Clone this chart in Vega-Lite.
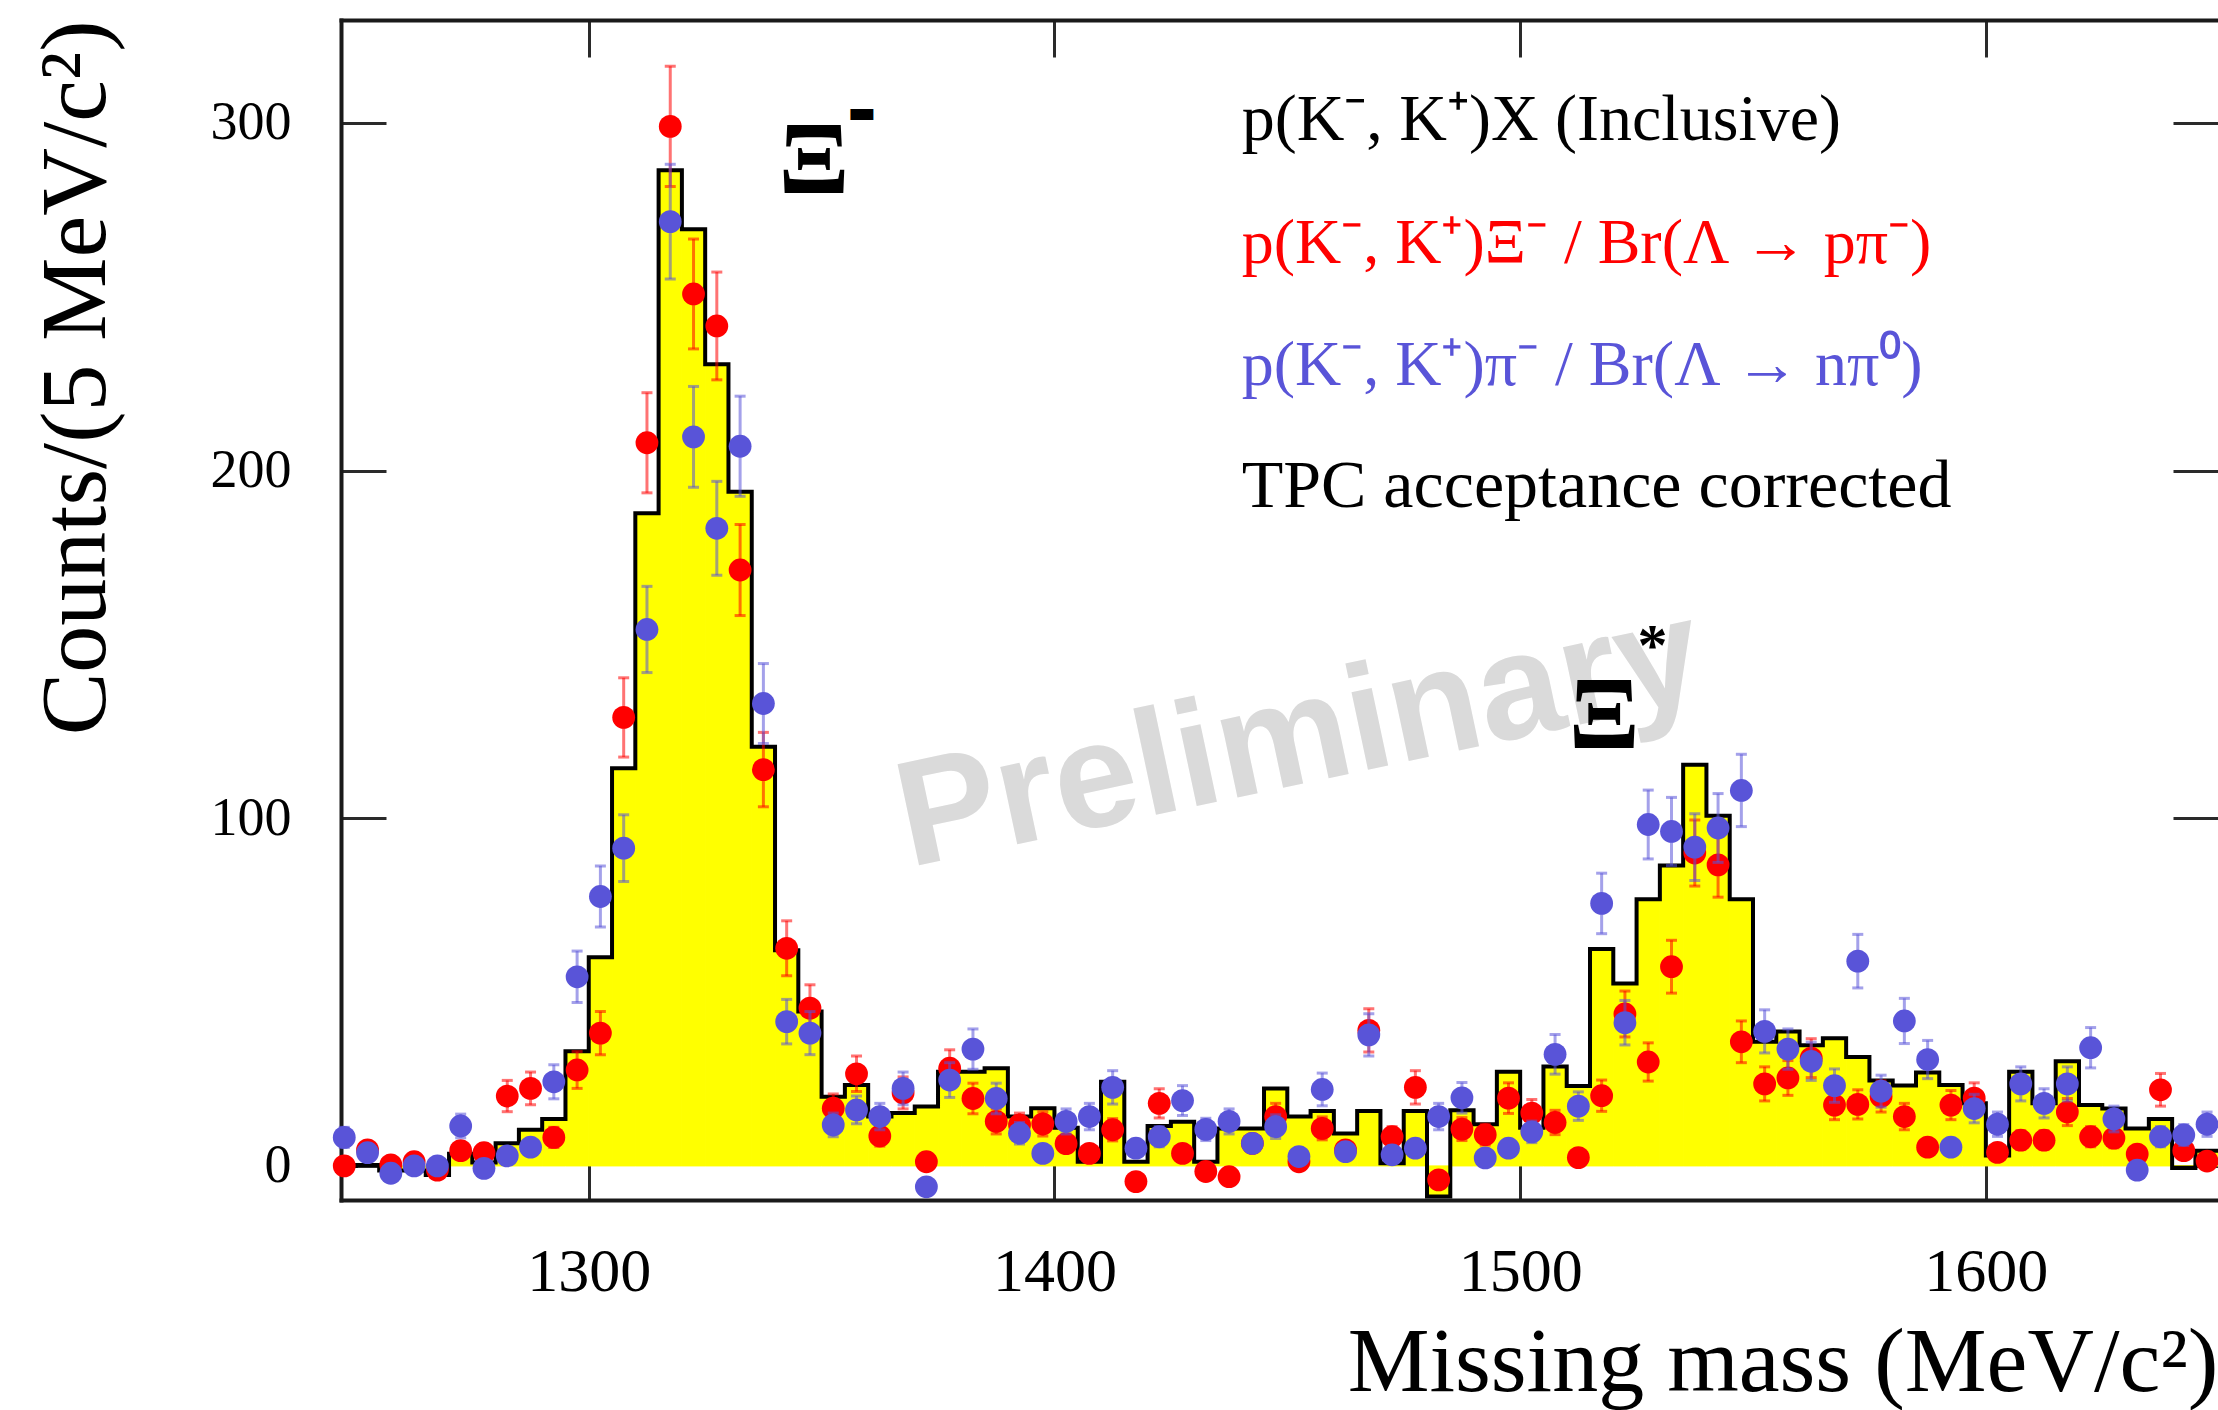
{
  "$schema": "https://vega.github.io/schema/vega-lite/v6.json",
  "width": 1877,
  "height": 1180,
  "autosize": {"type": "none"},
  "padding": {"left": 341, "top": 20, "right": 0, "bottom": 210},
  "background": "white",
  "config": {
    "view": {"stroke": null},
    "axis": {"grid": false, "domain": true, "domainColor": "#1a1a1a", "domainWidth": 4, "domainCap": "square", "tickColor": "#2a2a2a", "tickWidth": 3, "labelColor": "black", "titleColor": "black", "labelFont": "Liberation Serif", "titleFont": "Liberation Serif", "titleFontWeight": "normal"}
  },
  "datasets": {
    "hist": [
      {"lo":1245,"hi":1250,"c":0},{"lo":1250,"hi":1255,"c":0.3},{"lo":1255,"hi":1260,"c":-1.3},{"lo":1260,"hi":1265,"c":-1.3},
      {"lo":1265,"hi":1270,"c":-2.6},{"lo":1270,"hi":1275,"c":3.5},{"lo":1275,"hi":1280,"c":1},{"lo":1280,"hi":1285,"c":6.5},
      {"lo":1285,"hi":1290,"c":10.4},{"lo":1290,"hi":1295,"c":13.5},{"lo":1295,"hi":1300,"c":33},{"lo":1300,"hi":1305,"c":60},
      {"lo":1305,"hi":1310,"c":114.4},{"lo":1310,"hi":1315,"c":187.7},{"lo":1315,"hi":1320,"c":286.4},{"lo":1320,"hi":1325,"c":269.4},
      {"lo":1325,"hi":1330,"c":230.6},{"lo":1330,"hi":1335,"c":193.9},{"lo":1335,"hi":1340,"c":120.6},{"lo":1340,"hi":1345,"c":62},
      {"lo":1345,"hi":1350,"c":44.4},{"lo":1350,"hi":1355,"c":19.9},{"lo":1355,"hi":1360,"c":23.3},{"lo":1360,"hi":1365,"c":14.2},
      {"lo":1365,"hi":1370,"c":15.2},{"lo":1370,"hi":1375,"c":17.1},{"lo":1375,"hi":1380,"c":27.1},{"lo":1380,"hi":1385,"c":27.1},
      {"lo":1385,"hi":1390,"c":28.1},{"lo":1390,"hi":1395,"c":14.2},{"lo":1395,"hi":1400,"c":16.6},{"lo":1400,"hi":1405,"c":11},
      {"lo":1405,"hi":1410,"c":1.2},{"lo":1410,"hi":1415,"c":24.2},{"lo":1415,"hi":1420,"c":1.2},{"lo":1420,"hi":1425,"c":11.5},
      {"lo":1425,"hi":1430,"c":12.7},{"lo":1430,"hi":1435,"c":1.2},{"lo":1435,"hi":1440,"c":10.8},{"lo":1440,"hi":1445,"c":10.8},
      {"lo":1445,"hi":1450,"c":22.3},{"lo":1450,"hi":1455,"c":14.2},{"lo":1455,"hi":1460,"c":15.8},{"lo":1460,"hi":1465,"c":9.3},
      {"lo":1465,"hi":1470,"c":15.8},{"lo":1470,"hi":1475,"c":0.8},{"lo":1475,"hi":1480,"c":15.8},{"lo":1480,"hi":1485,"c":-8.8},
      {"lo":1485,"hi":1490,"c":16},{"lo":1490,"hi":1495,"c":12},{"lo":1495,"hi":1500,"c":27.1},{"lo":1500,"hi":1505,"c":11},
      {"lo":1505,"hi":1510,"c":28.6},{"lo":1510,"hi":1515,"c":23},{"lo":1515,"hi":1520,"c":62.4},{"lo":1520,"hi":1525,"c":52.5},
      {"lo":1525,"hi":1530,"c":76.7},{"lo":1530,"hi":1535,"c":86.4},{"lo":1535,"hi":1540,"c":115.4},{"lo":1540,"hi":1545,"c":100.7},
      {"lo":1545,"hi":1550,"c":76.7},{"lo":1550,"hi":1555,"c":35.7},{"lo":1555,"hi":1560,"c":38.7},{"lo":1560,"hi":1565,"c":34.7},
      {"lo":1565,"hi":1570,"c":36.7},{"lo":1570,"hi":1575,"c":31.3},{"lo":1575,"hi":1580,"c":24.6},{"lo":1580,"hi":1585,"c":23.1},
      {"lo":1585,"hi":1590,"c":26.9},{"lo":1590,"hi":1595,"c":23.3},{"lo":1595,"hi":1600,"c":18},{"lo":1600,"hi":1605,"c":3},
      {"lo":1605,"hi":1610,"c":27.1},{"lo":1610,"hi":1615,"c":18},{"lo":1615,"hi":1620,"c":30.1},{"lo":1620,"hi":1625,"c":17.5},
      {"lo":1625,"hi":1630,"c":16.5},{"lo":1630,"hi":1635,"c":10.8},{"lo":1635,"hi":1640,"c":13.5},{"lo":1640,"hi":1645,"c":-0.6},
      {"lo":1645,"hi":1650,"c":4.4}
    ],
    "pts": [
      {"m":1247.5,"s":"r","v":0,"lo":-1,"hi":1},{"m":1252.5,"s":"r","v":4.6,"lo":2.5,"hi":6.7},{"m":1257.5,"s":"r","v":0.3,"lo":-0.7,"hi":1.3},
      {"m":1262.5,"s":"r","v":1.2,"lo":0.1,"hi":2.3},{"m":1267.5,"s":"r","v":-1.2,"lo":-2.3,"hi":-0.1},{"m":1272.5,"s":"r","v":4.4,"lo":2.3,"hi":6.5},
      {"m":1277.5,"s":"r","v":3.8,"lo":1.9,"hi":5.7},{"m":1282.5,"s":"r","v":20.1,"lo":15.6,"hi":24.6},{"m":1287.5,"s":"r","v":22.3,"lo":17.6,"hi":27},
      {"m":1292.5,"s":"r","v":8.2,"lo":5.3,"hi":11.1},{"m":1297.5,"s":"r","v":27.6,"lo":22.3,"hi":32.9},{"m":1302.5,"s":"r","v":38.2,"lo":32,"hi":44.4},
      {"m":1307.5,"s":"r","v":129,"lo":117.6,"hi":140.4},{"m":1312.5,"s":"r","v":208,"lo":193.6,"hi":222.4},{"m":1317.5,"s":"r","v":299,"lo":281.7,"hi":316.3},
      {"m":1322.5,"s":"r","v":250.8,"lo":235,"hi":266.6},{"m":1327.5,"s":"r","v":241.6,"lo":226.1,"hi":257.1},{"m":1332.5,"s":"r","v":171.4,"lo":158.3,"hi":184.5},
      {"m":1337.5,"s":"r","v":114,"lo":103.3,"hi":124.7},{"m":1342.5,"s":"r","v":62.6,"lo":54.7,"hi":70.5},{"m":1347.5,"s":"r","v":45.4,"lo":38.7,"hi":52.1},
      {"m":1352.5,"s":"r","v":16.6,"lo":12.5,"hi":20.7},{"m":1357.5,"s":"r","v":26.5,"lo":21.4,"hi":31.6},{"m":1362.5,"s":"r","v":8.6,"lo":5.7,"hi":11.5},
      {"m":1367.5,"s":"r","v":21,"lo":16.4,"hi":25.6},{"m":1372.5,"s":"r","v":1.2,"lo":0.1,"hi":2.3},{"m":1377.5,"s":"r","v":28.1,"lo":22.8,"hi":33.4},
      {"m":1382.5,"s":"r","v":19.4,"lo":15,"hi":23.8},{"m":1387.5,"s":"r","v":12.8,"lo":9.2,"hi":16.4},{"m":1392.5,"s":"r","v":11.8,"lo":8.4,"hi":15.2},
      {"m":1397.5,"s":"r","v":12.1,"lo":8.6,"hi":15.6},{"m":1402.5,"s":"r","v":6.4,"lo":3.9,"hi":8.9},{"m":1407.5,"s":"r","v":3.6,"lo":1.7,"hi":5.5},
      {"m":1412.5,"s":"r","v":10.4,"lo":7.2,"hi":13.6},{"m":1417.5,"s":"r","v":-4.5,"lo":-6.6,"hi":-2.4},{"m":1422.5,"s":"r","v":18,"lo":13.8,"hi":22.2},
      {"m":1427.5,"s":"r","v":3.6,"lo":1.7,"hi":5.5},{"m":1432.5,"s":"r","v":-1.6,"lo":-2.9,"hi":-0.3},{"m":1437.5,"s":"r","v":-3.1,"lo":-4.9,"hi":-1.3},
      {"m":1442.5,"s":"r","v":6.5,"lo":4,"hi":9},{"m":1447.5,"s":"r","v":14.2,"lo":10.4,"hi":18},{"m":1452.5,"s":"r","v":1.2,"lo":0.1,"hi":2.3},
      {"m":1457.5,"s":"r","v":10.8,"lo":7.5,"hi":14.1},{"m":1462.5,"s":"r","v":4.6,"lo":2.5,"hi":6.7},{"m":1467.5,"s":"r","v":39,"lo":32.8,"hi":45.2},
      {"m":1472.5,"s":"r","v":8.4,"lo":5.5,"hi":11.3},{"m":1477.5,"s":"r","v":22.6,"lo":17.8,"hi":27.4},{"m":1482.5,"s":"r","v":-4,"lo":-6,"hi":-2},
      {"m":1487.5,"s":"r","v":10.6,"lo":7.3,"hi":13.9},{"m":1492.5,"s":"r","v":9,"lo":6,"hi":12},{"m":1497.5,"s":"r","v":19.5,"lo":15.1,"hi":23.9},
      {"m":1502.5,"s":"r","v":15.2,"lo":11.3,"hi":19.1},{"m":1507.5,"s":"r","v":12.5,"lo":9,"hi":16},{"m":1512.5,"s":"r","v":2.4,"lo":0.9,"hi":3.9},
      {"m":1517.5,"s":"r","v":20.2,"lo":15.7,"hi":24.7},{"m":1522.5,"s":"r","v":43.7,"lo":37.1,"hi":50.3},{"m":1527.5,"s":"r","v":29.9,"lo":24.4,"hi":35.4},
      {"m":1532.5,"s":"r","v":57.3,"lo":49.7,"hi":64.9},{"m":1537.5,"s":"r","v":90,"lo":80.5,"hi":99.5},{"m":1542.5,"s":"r","v":86.6,"lo":77.3,"hi":95.9},
      {"m":1547.5,"s":"r","v":35.7,"lo":29.7,"hi":41.7},{"m":1552.5,"s":"r","v":23.6,"lo":18.7,"hi":28.5},{"m":1557.5,"s":"r","v":25.3,"lo":20.3,"hi":30.3},
      {"m":1562.5,"s":"r","v":31,"lo":25.4,"hi":36.6},{"m":1567.5,"s":"r","v":17.5,"lo":13.3,"hi":21.7},{"m":1572.5,"s":"r","v":17.7,"lo":13.5,"hi":21.9},
      {"m":1577.5,"s":"r","v":20,"lo":15.5,"hi":24.5},{"m":1582.5,"s":"r","v":14.2,"lo":10.4,"hi":18},{"m":1587.5,"s":"r","v":5.4,"lo":3.1,"hi":7.7},
      {"m":1592.5,"s":"r","v":17.5,"lo":13.3,"hi":21.7},{"m":1597.5,"s":"r","v":19.5,"lo":15.1,"hi":23.9},{"m":1602.5,"s":"r","v":3.9,"lo":1.9,"hi":5.9},
      {"m":1607.5,"s":"r","v":7.4,"lo":4.7,"hi":10.1},{"m":1612.5,"s":"r","v":7.4,"lo":4.7,"hi":10.1},{"m":1617.5,"s":"r","v":15.5,"lo":11.6,"hi":19.4},
      {"m":1622.5,"s":"r","v":8.4,"lo":5.5,"hi":11.3},{"m":1627.5,"s":"r","v":8,"lo":5.2,"hi":10.8},{"m":1632.5,"s":"r","v":3.4,"lo":1.6,"hi":5.2},
      {"m":1637.5,"s":"r","v":21.9,"lo":17.2,"hi":26.6},{"m":1642.5,"s":"r","v":4.4,"lo":2.3,"hi":6.5},{"m":1647.5,"s":"r","v":1.4,"lo":0.2,"hi":2.6},
      {"m":1247.5,"s":"b","v":8.2,"lo":5.3,"hi":11.1},{"m":1252.5,"s":"b","v":3.8,"lo":1.9,"hi":5.7},{"m":1257.5,"s":"b","v":-2.1,"lo":-3.6,"hi":-0.6},
      {"m":1262.5,"s":"b","v":0,"lo":-1,"hi":1},{"m":1267.5,"s":"b","v":0,"lo":-1,"hi":1},{"m":1272.5,"s":"b","v":11.5,"lo":8.1,"hi":14.9},
      {"m":1277.5,"s":"b","v":-0.7,"lo":-1.7,"hi":0.3},{"m":1282.5,"s":"b","v":2.9,"lo":1.2,"hi":4.6},{"m":1287.5,"s":"b","v":5.4,"lo":3.1,"hi":7.7},
      {"m":1292.5,"s":"b","v":24.2,"lo":19.3,"hi":29.1},{"m":1297.5,"s":"b","v":54.4,"lo":47,"hi":61.8},{"m":1302.5,"s":"b","v":77.5,"lo":68.7,"hi":86.3},
      {"m":1307.5,"s":"b","v":91.4,"lo":81.8,"hi":101},{"m":1312.5,"s":"b","v":154.3,"lo":141.9,"hi":166.7},{"m":1317.5,"s":"b","v":271.6,"lo":255.1,"hi":288.1},
      {"m":1322.5,"s":"b","v":209.7,"lo":195.2,"hi":224.2},{"m":1327.5,"s":"b","v":183.4,"lo":169.9,"hi":196.9},{"m":1332.5,"s":"b","v":207,"lo":192.6,"hi":221.4},
      {"m":1337.5,"s":"b","v":133,"lo":121.5,"hi":144.5},{"m":1342.5,"s":"b","v":41.5,"lo":35.1,"hi":47.9},{"m":1347.5,"s":"b","v":38.2,"lo":32,"hi":44.4},
      {"m":1352.5,"s":"b","v":11.8,"lo":8.4,"hi":15.2},{"m":1357.5,"s":"b","v":16.1,"lo":12.1,"hi":20.1},{"m":1362.5,"s":"b","v":14.2,"lo":10.4,"hi":18},
      {"m":1367.5,"s":"b","v":22.3,"lo":17.6,"hi":27},{"m":1372.5,"s":"b","v":-6,"lo":-8.4,"hi":-3.6},{"m":1377.5,"s":"b","v":24.7,"lo":19.7,"hi":29.7},
      {"m":1382.5,"s":"b","v":33.6,"lo":27.8,"hi":39.4},{"m":1387.5,"s":"b","v":19.4,"lo":15,"hi":23.8},{"m":1392.5,"s":"b","v":9.4,"lo":6.3,"hi":12.5},
      {"m":1397.5,"s":"b","v":3.6,"lo":1.7,"hi":5.5},{"m":1402.5,"s":"b","v":12.8,"lo":9.2,"hi":16.4},{"m":1407.5,"s":"b","v":14.2,"lo":10.4,"hi":18},
      {"m":1412.5,"s":"b","v":22.6,"lo":17.8,"hi":27.4},{"m":1417.5,"s":"b","v":5.1,"lo":2.8,"hi":7.4},{"m":1422.5,"s":"b","v":8.4,"lo":5.5,"hi":11.3},
      {"m":1427.5,"s":"b","v":18.8,"lo":14.5,"hi":23.1},{"m":1432.5,"s":"b","v":10.5,"lo":7.3,"hi":13.7},{"m":1437.5,"s":"b","v":12.8,"lo":9.2,"hi":16.4},
      {"m":1442.5,"s":"b","v":6.5,"lo":4,"hi":9},{"m":1447.5,"s":"b","v":11.3,"lo":7.9,"hi":14.7},{"m":1452.5,"s":"b","v":2.7,"lo":1.1,"hi":4.3},
      {"m":1457.5,"s":"b","v":22,"lo":17.3,"hi":26.7},{"m":1462.5,"s":"b","v":4.1,"lo":2.1,"hi":6.1},{"m":1467.5,"s":"b","v":37.7,"lo":31.6,"hi":43.8},
      {"m":1472.5,"s":"b","v":3.2,"lo":1.4,"hi":5},{"m":1477.5,"s":"b","v":5.1,"lo":2.8,"hi":7.4},{"m":1482.5,"s":"b","v":14.2,"lo":10.4,"hi":18},
      {"m":1487.5,"s":"b","v":19.6,"lo":15.2,"hi":24},{"m":1492.5,"s":"b","v":2.3,"lo":0.8,"hi":3.8},{"m":1497.5,"s":"b","v":5.1,"lo":2.8,"hi":7.4},
      {"m":1502.5,"s":"b","v":9.8,"lo":6.7,"hi":12.9},{"m":1507.5,"s":"b","v":32.1,"lo":26.4,"hi":37.8},{"m":1512.5,"s":"b","v":17.2,"lo":13.1,"hi":21.3},
      {"m":1517.5,"s":"b","v":75.5,"lo":66.8,"hi":84.2},{"m":1522.5,"s":"b","v":41.2,"lo":34.8,"hi":47.6},{"m":1527.5,"s":"b","v":98.2,"lo":88.3,"hi":108.1},
      {"m":1532.5,"s":"b","v":96.2,"lo":86.4,"hi":106},{"m":1537.5,"s":"b","v":91.7,"lo":82.1,"hi":101.3},{"m":1542.5,"s":"b","v":97.2,"lo":87.3,"hi":107.1},
      {"m":1547.5,"s":"b","v":108,"lo":97.6,"hi":118.4},{"m":1552.5,"s":"b","v":38.7,"lo":32.5,"hi":44.9},{"m":1557.5,"s":"b","v":33.6,"lo":27.8,"hi":39.4},
      {"m":1562.5,"s":"b","v":30.1,"lo":24.6,"hi":35.6},{"m":1567.5,"s":"b","v":23.1,"lo":18.3,"hi":27.9},{"m":1572.5,"s":"b","v":58.9,"lo":51.2,"hi":66.6},
      {"m":1577.5,"s":"b","v":21.5,"lo":16.9,"hi":26.1},{"m":1582.5,"s":"b","v":41.7,"lo":35.2,"hi":48.2},{"m":1587.5,"s":"b","v":30.6,"lo":25.1,"hi":36.1},
      {"m":1592.5,"s":"b","v":5.4,"lo":3.1,"hi":7.7},{"m":1597.5,"s":"b","v":16.5,"lo":12.4,"hi":20.6},{"m":1602.5,"s":"b","v":12,"lo":8.5,"hi":15.5},
      {"m":1607.5,"s":"b","v":23.6,"lo":18.7,"hi":28.5},{"m":1612.5,"s":"b","v":18,"lo":13.8,"hi":22.2},{"m":1617.5,"s":"b","v":23.6,"lo":18.7,"hi":28.5},
      {"m":1622.5,"s":"b","v":34,"lo":28.2,"hi":39.8},{"m":1627.5,"s":"b","v":13.5,"lo":9.8,"hi":17.2},{"m":1632.5,"s":"b","v":-1.2,"lo":-2.3,"hi":-0.1},
      {"m":1637.5,"s":"b","v":8.4,"lo":5.5,"hi":11.3},{"m":1642.5,"s":"b","v":8.9,"lo":5.9,"hi":11.9},{"m":1647.5,"s":"b","v":12,"lo":8.5,"hi":15.5}
    ]
  },
  "resolve": {"axis": {"x": "independent", "y": "independent"}},
  "layer": [
    {
      "data": {"values": [{}]},
      "mark": {"type": "text", "text": "Preliminary", "font": "Liberation Sans", "fontWeight": "bold", "fontSize": 150, "angle": -12, "color": "#dadada", "align": "center", "baseline": "middle"},
      "encoding": {
        "x": {"datum": 1452.6, "type": "quantitative", "scale": {"domain": [1246.8, 1649.85], "nice": false, "zero": false}, "axis": null},
        "y": {"datum": 123, "type": "quantitative", "scale": {"domain": [-9.8, 329.6], "nice": false, "zero": false}, "axis": null}
      }
    },
    {
      "data": {"name": "hist"},
      "mark": {"type": "bar", "color": "#ffff00", "stroke": "#ffff00", "strokeWidth": 1, "clip": true},
      "encoding": {
        "x": {"field": "lo", "type": "quantitative", "scale": {"domain": [1246.8, 1649.85], "nice": false, "zero": false},
              "axis": {"orient": "bottom", "values": [1300, 1400, 1500, 1600], "format": "d", "tickSize": -37, "labelFontSize": 62, "labelPadding": 78,
                       "title": "Missing mass (MeV/c²)", "titleFontSize": 92, "titleAnchor": "end", "titlePadding": 15}},
        "x2": {"field": "hi"},
        "y": {"field": "c", "type": "quantitative", "scale": {"domain": [-9.8, 329.6], "nice": false, "zero": false},
              "axis": {"orient": "left", "values": [0, 100, 200, 300], "format": "d", "tickSize": -45, "labelFontSize": 54, "labelPadding": 95,
                       "title": "Counts/(5 MeV/c²)", "titleFontSize": 94, "titleAnchor": "end", "titlePadding": 86}},
        "y2": {"datum": 0}
      }
    },
    {
      "data": {"name": "hist"},
      "transform": [{"fold": ["lo", "hi"], "as": ["k", "edge"]}],
      "mark": {"type": "line", "color": "black", "strokeWidth": 4, "clip": true, "strokeJoin": "miter"},
      "encoding": {
        "x": {"field": "edge", "type": "quantitative", "scale": {"domain": [1246.8, 1649.85], "nice": false, "zero": false}, "axis": null},
        "y": {"field": "c", "type": "quantitative", "scale": {"domain": [-9.8, 329.6], "nice": false, "zero": false}, "axis": null},
        "order": [{"field": "edge", "type": "quantitative"}, {"field": "lo", "type": "quantitative"}]
      }
    },
    {
      "data": {"name": "hist"},
      "mark": {"type": "point", "opacity": 0},
      "encoding": {
        "x": {"field": "lo", "type": "quantitative", "scale": {"domain": [1246.8, 1649.85], "nice": false, "zero": false},
              "axis": {"orient": "top", "values": [1300, 1400, 1500, 1600], "tickSize": -37, "labels": false, "title": null}},
        "y": {"field": "c", "type": "quantitative", "scale": {"domain": [-9.8, 329.6], "nice": false, "zero": false},
              "axis": {"orient": "right", "values": [0, 100, 200, 300], "tickSize": -45, "labels": false, "title": null, "domain": false}}
      }
    },
    {
      "data": {"name": "pts"},
      "transform": [{"filter": "datum.s === 'r'"}],
      "layer": [
        {
          "mark": {"type": "rule", "color": "#ff0000", "opacity": 0.55, "strokeWidth": 3},
          "encoding": {
            "x": {"field": "m", "type": "quantitative", "axis": null},
            "y": {"field": "lo", "type": "quantitative", "axis": null},
            "y2": {"field": "hi"}
          }
        },
        {
          "transform": [{"fold": ["lo", "hi"], "as": ["k", "cap"]}],
          "mark": {"type": "tick", "orient": "horizontal", "color": "#ff0000", "opacity": 0.55, "size": 11, "thickness": 3},
          "encoding": {
            "x": {"field": "m", "type": "quantitative", "axis": null},
            "y": {"field": "cap", "type": "quantitative", "axis": null}
          }
        },
        {
          "mark": {"type": "circle", "color": "#ff0000", "size": 520, "opacity": 1},
          "encoding": {
            "x": {"field": "m", "type": "quantitative", "axis": null},
            "y": {"field": "v", "type": "quantitative", "axis": null}
          }
        }
      ]
    },
    {
      "data": {"name": "pts"},
      "transform": [{"filter": "datum.s === 'b'"}],
      "layer": [
        {
          "mark": {"type": "rule", "color": "#5954d8", "opacity": 0.55, "strokeWidth": 3},
          "encoding": {
            "x": {"field": "m", "type": "quantitative", "axis": null},
            "y": {"field": "lo", "type": "quantitative", "axis": null},
            "y2": {"field": "hi"}
          }
        },
        {
          "transform": [{"fold": ["lo", "hi"], "as": ["k", "cap"]}],
          "mark": {"type": "tick", "orient": "horizontal", "color": "#5954d8", "opacity": 0.55, "size": 11, "thickness": 3},
          "encoding": {
            "x": {"field": "m", "type": "quantitative", "axis": null},
            "y": {"field": "cap", "type": "quantitative", "axis": null}
          }
        },
        {
          "mark": {"type": "circle", "color": "#5954d8", "size": 520, "opacity": 1},
          "encoding": {
            "x": {"field": "m", "type": "quantitative", "axis": null},
            "y": {"field": "v", "type": "quantitative", "axis": null}
          }
        }
      ]
    },
    {
      "data": {"values": [{}]},
      "mark": {"type": "text", "text": "Ξ", "font": "Liberation Serif", "fontWeight": "bold", "fontSize": 104, "align": "left", "baseline": "alphabetic", "color": "black"},
      "encoding": {"x": {"datum": 1340.8, "type": "quantitative", "axis": null}, "y": {"datum": 279.8, "type": "quantitative", "axis": null}}
    },
    {
      "data": {"values": [{}]},
      "mark": {"type": "text", "text": "▬", "font": "DejaVu Sans", "fontSize": 30, "align": "center", "baseline": "middle", "color": "black"},
      "encoding": {"x": {"datum": 1358.6, "type": "quantitative", "axis": null}, "y": {"datum": 302.8, "type": "quantitative", "axis": null}}
    },
    {
      "data": {"values": [{}]},
      "mark": {"type": "text", "text": "Ξ", "font": "Liberation Serif", "fontWeight": "bold", "fontSize": 104, "align": "left", "baseline": "alphabetic", "color": "black"},
      "encoding": {"x": {"datum": 1510.5, "type": "quantitative", "axis": null}, "y": {"datum": 120.2, "type": "quantitative", "axis": null}}
    },
    {
      "data": {"values": [{}]},
      "mark": {"type": "text", "text": "*", "font": "Liberation Serif", "fontWeight": "bold", "fontSize": 60, "align": "center", "baseline": "alphabetic", "color": "black"},
      "encoding": {"x": {"datum": 1528.4, "type": "quantitative", "axis": null}, "y": {"datum": 144, "type": "quantitative", "axis": null}}
    },
    {
      "data": {"values": [{}]},
      "mark": {"type": "text", "text": "p(K⁻, K⁺)X (Inclusive)", "font": "Liberation Serif", "fontSize": 66, "align": "left", "baseline": "alphabetic", "color": "black"},
      "encoding": {"x": {"datum": 1440.2, "type": "quantitative", "axis": null}, "y": {"datum": 295.1, "type": "quantitative", "axis": null}}
    },
    {
      "data": {"values": [{}]},
      "mark": {"type": "text", "text": "p(K⁻, K⁺)Ξ⁻ / Br(Λ → pπ⁻)", "font": "Liberation Serif", "fontSize": 64, "align": "left", "baseline": "alphabetic", "color": "#ff0000"},
      "encoding": {"x": {"datum": 1440.2, "type": "quantitative", "axis": null}, "y": {"datum": 259.7, "type": "quantitative", "axis": null}}
    },
    {
      "data": {"values": [{}]},
      "mark": {"type": "text", "text": "p(K⁻, K⁺)π⁻ / Br(Λ → nπ⁰)", "font": "Liberation Serif", "fontSize": 64, "align": "left", "baseline": "alphabetic", "color": "#5954d8"},
      "encoding": {"x": {"datum": 1440.2, "type": "quantitative", "axis": null}, "y": {"datum": 224.6, "type": "quantitative", "axis": null}}
    },
    {
      "data": {"values": [{}]},
      "mark": {"type": "text", "text": "TPC acceptance corrected", "font": "Liberation Serif", "fontSize": 68, "align": "left", "baseline": "alphabetic", "color": "black"},
      "encoding": {"x": {"datum": 1440.2, "type": "quantitative", "axis": null}, "y": {"datum": 189.5, "type": "quantitative", "axis": null}}
    }
  ]
}
